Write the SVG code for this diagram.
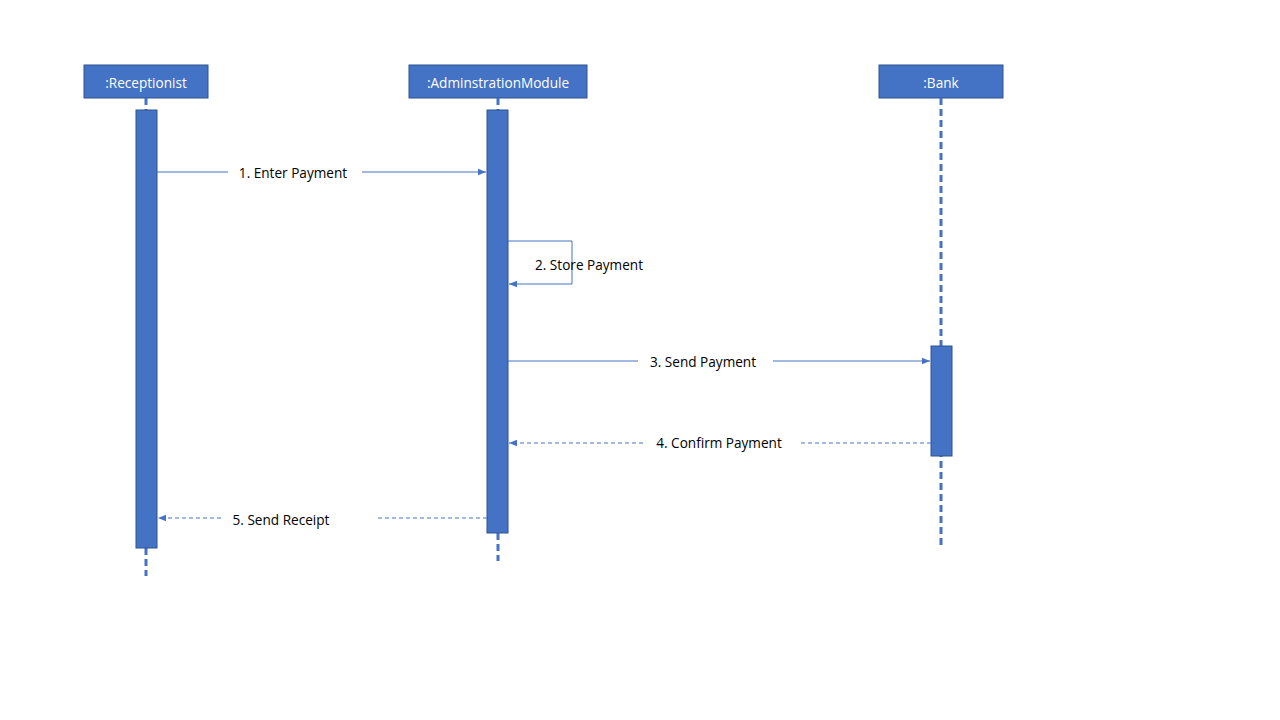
<svg xmlns="http://www.w3.org/2000/svg" width="1280" height="720" viewBox="0 0 1280 720">
<defs>
<style>
.hdr{fill:#4472C4;stroke:#2F528F;stroke-width:1}
.act{fill:#4472C4;stroke:#2F528F;stroke-width:1}
.life{stroke:#4472C4;stroke-width:3;stroke-dasharray:7 4;fill:none}
.msg{stroke:#4472C4;stroke-width:1;fill:none}
.ret{stroke:#4472C4;stroke-width:1;fill:none;stroke-dasharray:4 3}
.ht{font-family:"Open Sans","Noto Sans",sans-serif;font-size:13.6px;fill:#fff;text-anchor:middle;dominant-baseline:central}
.lt{font-family:"Open Sans","Noto Sans",sans-serif;font-size:13.6px;fill:#000;text-anchor:middle;dominant-baseline:central}
</style>
<marker id="ah" viewBox="0 0 10 10" refX="10" refY="5" markerWidth="8" markerHeight="8" markerUnits="userSpaceOnUse" orient="auto">
<path d="M0,1 L10,5 L0,9 z" fill="#4472C4"/>
</marker>
</defs>
<rect width="1280" height="720" fill="#fff"/>
<g id="receptionist">
<rect class="hdr" x="84" y="65" width="124" height="33"/>
<text class="ht" x="146" y="82">:Receptionist</text>
<line class="life" x1="146" y1="98" x2="146" y2="110"/>
<line class="life" x1="146" y1="548" x2="146" y2="576"/>
<rect class="act" x="136" y="110" width="21" height="438"/>
</g>
<g id="admin">
<rect class="hdr" x="409" y="65" width="178" height="33"/>
<text class="ht" x="498" y="82">:AdminstrationModule</text>
<line class="life" x1="498" y1="98" x2="498" y2="110"/>
<line class="life" x1="498" y1="533" x2="498" y2="561"/>
<rect class="act" x="487" y="110" width="21" height="423"/>
</g>
<g id="bank">
<rect class="hdr" x="879" y="65" width="124" height="33"/>
<text class="ht" x="941" y="82">:Bank</text>
<line class="life" x1="941" y1="98" x2="941" y2="549"/>
<rect class="act" x="931" y="346" width="21" height="110"/>
</g>
<g id="connectors">
<path class="msg" d="M157,172 H228 M362,172 H486" marker-end="url(#ah)"/>
<path class="msg" d="M508,241 H572 V284 H509" marker-end="url(#ah)"/>
<path class="msg" d="M508,361 H638 M773,361 H930" marker-end="url(#ah)"/>
<path class="ret" d="M931,443 H800 M643,443 H509" marker-end="url(#ah)"/>
<path class="ret" d="M487,518 H375 M221,518 H158" marker-end="url(#ah)"/>
</g>
<g id="labels">
<text class="lt" x="293" y="172">1. Enter Payment</text>
<text class="lt" x="589" y="264">2. Store Payment</text>
<text class="lt" x="703" y="361">3. Send Payment</text>
<text class="lt" x="719" y="442">4. Confirm Payment</text>
<text class="lt" x="281" y="519">5. Send Receipt</text>
</g>
</svg>
